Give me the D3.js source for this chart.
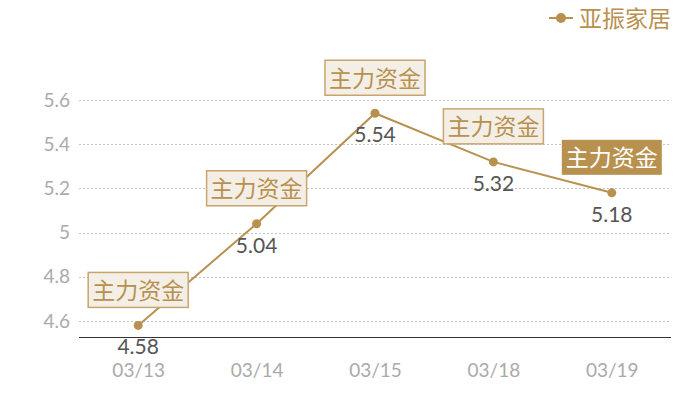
<!DOCTYPE html>
<html>
<head>
<meta charset="utf-8">
<script src="https://cdn.jsdelivr.net/npm/d3@7"></script>
<style>
  body { margin: 0; background: #fff; }
  text { font-family: "Noto Sans CJK SC", "Noto Sans", sans-serif; }
</style>
</head>
<body>
<div id="chart"></div>
<script>
const dates = ["03/13", "03/14", "03/15", "03/18", "03/19"];
const prices = [4.58, 5.04, 5.54, 5.32, 5.18];
const tags = ["主力资金", "主力资金", "主力资金", "主力资金", "主力资金"];
const yTicks = [4.6, 4.8, 5, 5.2, 5.4, 5.6];
const seriesName = "亚振家居";

const gold = "#b8914f";
const width = 700, height = 400;
const left = 79, right = 671, bottom = 337.5;

const svg = d3.select("#chart").append("svg")
  .attr("width", width)
  .attr("height", height);

const x = d3.scalePoint()
  .domain(dates)
  .range([left, right])
  .padding(0.5);

const y = d3.scaleLinear()
  .domain([4.6, 5.6])
  .range([321, 100]);

// grid lines + y labels
const yAxis = svg.append("g")
  .attr("transform", "translate(" + left + ",0)")
  .call(d3.axisLeft(y).tickValues(yTicks).tickSize(-(right - left)).tickPadding(9)
    .tickFormat(d => d));
yAxis.select(".domain").remove();
yAxis.selectAll(".tick line")
  .attr("stroke", "#c4c4c4")
  .attr("stroke-dasharray", "2,2")
  .attr("shape-rendering", "crispEdges");
yAxis.selectAll(".tick text")
  .attr("fill", "#aaa")
  .style("font-family", "Lato, sans-serif")
  .style("font-size", "19px");

// x axis
const xAxis = svg.append("g")
  .attr("transform", "translate(0," + bottom + ")")
  .call(d3.axisBottom(x).tickSize(0).tickPadding(26));
xAxis.select(".domain")
  .attr("stroke", "#333")
  .attr("d", "M" + left + ",0H" + right);
xAxis.selectAll(".tick text")
  .attr("fill", "#aaa")
  .style("font-family", "Lato, sans-serif")
  .style("font-size", "19px");

// line
const line = d3.line()
  .x((d, i) => x(dates[i]))
  .y(d => y(d));

svg.append("path")
  .datum(prices)
  .attr("fill", "none")
  .attr("stroke", gold)
  .attr("stroke-width", 2)
  .attr("d", line);

svg.selectAll(".dot")
  .data(prices)
  .enter().append("circle")
  .attr("cx", (d, i) => x(dates[i]))
  .attr("cy", d => y(d))
  .attr("r", 4.5)
  .attr("fill", gold);

// value labels
svg.selectAll(".val")
  .data(prices)
  .enter().append("text")
  .attr("x", (d, i) => x(dates[i]))
  .attr("y", d => y(d) + 29)
  .attr("text-anchor", "middle")
  .attr("fill", "#555")
  .style("font-family", "Lato, sans-serif")
  .style("font-size", "21px")
  .text(d => d);

// tag boxes
const tagG = svg.selectAll(".tag")
  .data(prices)
  .enter().append("g")
  .attr("transform", (d, i) => "translate(" + x(dates[i]) + "," + (y(d) - 35) + ")");

tagG.append("rect")
  .attr("x", -50)
  .attr("y", -18)
  .attr("width", 100)
  .attr("height", 35)
  .attr("fill", (d, i) => i === prices.length - 1 ? gold : "#f4efe6")
  .attr("stroke", (d, i) => i === prices.length - 1 ? "none" : "#c9a56d")
  .attr("stroke-width", 1.5);

tagG.append("text")
  .attr("text-anchor", "middle")
  .attr("y", 8.5)
  .attr("fill", (d, i) => i === prices.length - 1 ? "#fff" : gold)
  .style("font-size", "23px")
  .text((d, i) => tags[i]);

// legend
const lg = svg.append("g").attr("transform", "translate(549,18)");
lg.append("line")
  .attr("x1", 0).attr("x2", 24)
  .attr("stroke", gold).attr("stroke-width", 2);
lg.append("circle")
  .attr("cx", 12).attr("r", 5)
  .attr("fill", gold);
lg.append("text")
  .attr("x", 30)
  .attr("y", 8.5)
  .attr("fill", gold)
  .style("font-size", "23px")
  .text(seriesName);
</script>
</body>
</html>
